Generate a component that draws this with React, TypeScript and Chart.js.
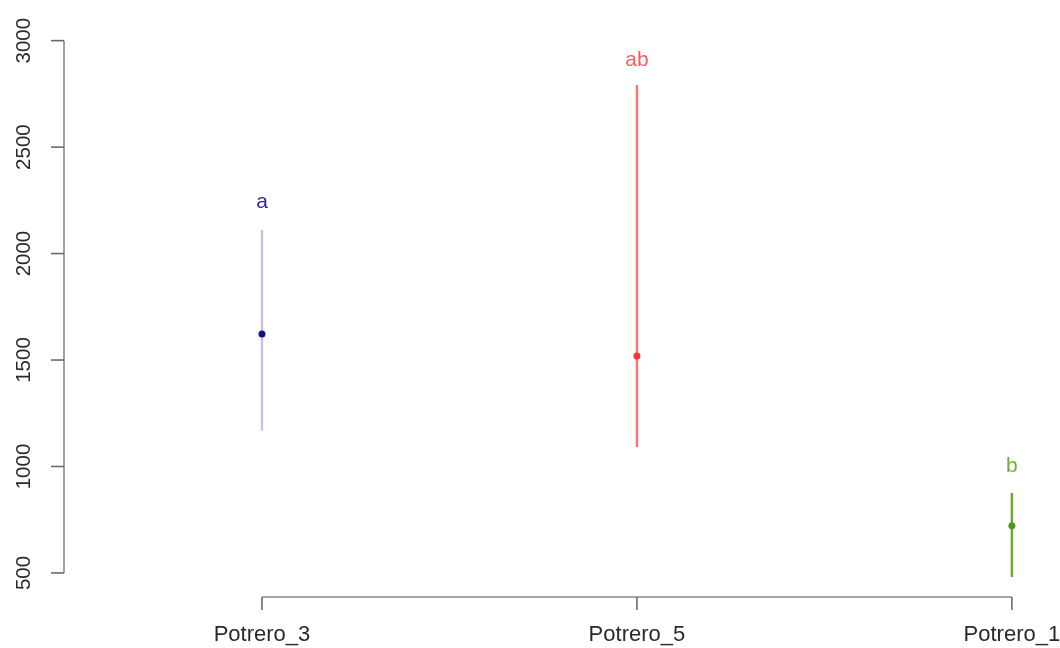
import React, { useEffect, useRef } from "react";
import { Chart, registerables } from "chart.js";

Chart.register(...registerables);

const categories = ["Potrero_3", "Potrero_5", "Potrero_1"];
const means = [1622, 1519, 722];
const lowers = [1168, 1092, 481];
const uppers = [2111, 2792, 876];
const letters = ["a", "ab", "b"];
const letterPos = [2242, 2909, 999];
const yTicks = [500, 1000, 1500, 2000, 2500, 3000];

const lineColors = ["#c2c2e8", "#ff7474", "#6aab26"];
const pointColors = ["#12128c", "#ee3838", "#4f9a1c"];
const letterColors = ["#2a2a9a", "#ff5a5a", "#74ad3a"];

const FONT = '"Liberation Sans", Arial, sans-serif';

const axesPlugin = {
  id: "rAxes",
  afterDatasetsDraw(chart: any) {
    const ctx = chart.ctx;
    const xs = chart.scales.x;
    const ys = chart.scales.y;
    const area = chart.chartArea;
    ctx.save();
    // y axis
    const yTop = ys.getPixelForValue(yTicks[yTicks.length - 1]);
    const yBot = ys.getPixelForValue(yTicks[0]);
    const ax = area.left;
    ctx.strokeStyle = "#8a8a8a";
    ctx.lineWidth = 1.6;
    ctx.beginPath();
    ctx.moveTo(ax, yTop);
    ctx.lineTo(ax, yBot);
    ctx.stroke();
    ctx.font = `20.5px ${FONT}`;
    ctx.fillStyle = "#2a2a2a";
    ctx.textAlign = "center";
    ctx.textBaseline = "middle";
    yTicks.forEach((t) => {
      const py = ys.getPixelForValue(t);
      ctx.strokeStyle = "#6a6a6a";
      ctx.beginPath();
      ctx.moveTo(ax, py);
      ctx.lineTo(ax - 13, py);
      ctx.stroke();
      ctx.save();
      ctx.translate(ax - 40, py);
      ctx.rotate(-Math.PI / 2);
      ctx.fillText(String(t), 0, 0);
      ctx.restore();
    });
    // x axis
    const by = area.bottom;
    const x0 = xs.getPixelForValue(0);
    const x1 = xs.getPixelForValue(categories.length - 1);
    ctx.strokeStyle = "#8a8a8a";
    ctx.beginPath();
    ctx.moveTo(x0, by);
    ctx.lineTo(x1, by);
    ctx.stroke();
    ctx.font = `22px ${FONT}`;
    categories.forEach((c, i) => {
      const px = xs.getPixelForValue(i);
      ctx.strokeStyle = "#6a6a6a";
      ctx.beginPath();
      ctx.moveTo(px, by);
      ctx.lineTo(px, by + 13);
      ctx.stroke();
      ctx.fillStyle = "#2a2a2a";
      ctx.fillText(c, px, by + 38);
    });
    // letters
    ctx.font = `21px ${FONT}`;
    letters.forEach((l, i) => {
      ctx.fillStyle = letterColors[i];
      ctx.fillText(l, xs.getPixelForValue(i), ys.getPixelForValue(letterPos[i]));
    });
    ctx.restore();
  },
};

export default function App() {
  const ref = useRef<HTMLCanvasElement>(null);
  useEffect(() => {
    if (!ref.current) return;
    const barSets = categories.map((c, i) => ({
      type: "line" as const,
      label: c + " range",
      data: [
        { x: i, y: lowers[i] },
        { x: i, y: uppers[i] },
      ],
      borderColor: lineColors[i],
      borderWidth: 2.4,
      pointRadius: 0,
      showLine: true,
      order: 2,
    }));
    const meanSet = {
      type: "scatter" as const,
      label: "mean",
      data: means.map((m, i) => ({ x: i, y: m })),
      backgroundColor: pointColors,
      borderColor: pointColors,
      pointRadius: 3.5,
      borderWidth: 0,
      order: 1,
    };
    const chart = new Chart(ref.current, {
      type: "scatter",
      data: { datasets: [...barSets, meanSet] as any },
      options: {
        animation: false,
        responsive: false,
        devicePixelRatio: 1,
        layout: { padding: { left: 64, right: 20, top: 20, bottom: 51 } },
        plugins: { legend: { display: false }, tooltip: { enabled: false } },
        scales: {
          x: { type: "linear", min: -0.528, max: 2.075, display: false },
          y: { type: "linear", min: 387, max: 3097, display: false },
        },
      },
      plugins: [axesPlugin],
    });
    return () => chart.destroy();
  }, []);
  return (
    <div style={{ position: "absolute", left: 0, top: 0, width: 1060, height: 648, background: "#fff" }}>
      <canvas ref={ref} width={1060} height={648} style={{ width: 1060, height: 648 }} />
    </div>
  );
}
